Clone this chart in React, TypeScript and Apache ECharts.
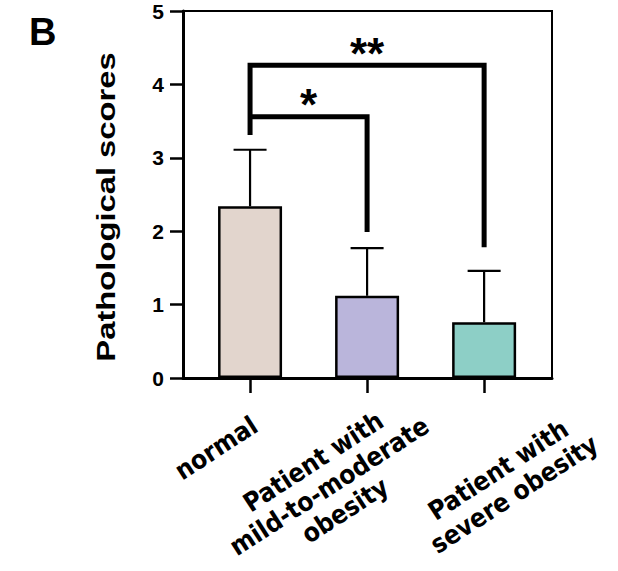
import React, { useEffect, useRef } from "react";
import * as echarts from "echarts";

const CATEGORIES = [
  "normal",
  "Patient with\nmild-to-moderate\nobesity",
  "Patient with\nsevere obesity",
];
const MEANS = [2.34, 1.12, 0.76];
const ERRORS = [0.77, 0.65, 0.7];
const BAR_COLORS = ["#E2D5CD", "#BAB5DB", "#8DCFC6"];
const Y_MIN = 0;
const Y_MAX = 5;
const Y_INTERVAL = 1;
// significance brackets: [from, to, top, left leg end, right leg end]
const BRACKETS = [
  [0, 2, 4.26, 3.31, 1.78],
  [0, 1, 3.56, 3.56, 1.99],
];
const BRACKET_LABELS = ["**", "*"];
const Y_TITLE = "Pathological scores";
const PANEL = "B";

// layout (pixels) for rotated category labels: offset of block centre from tick
const LABEL_OFFSETS = [
  [-34, 70],
  [-38, 108],
  [22, 104],
];

export default function App() {
  const ref = useRef<HTMLDivElement>(null);
  useEffect(() => {
    document.body.style.margin = "0";
    const chart = echarts.init(ref.current!, undefined, { renderer: "svg" });
    const font = "'Liberation Sans', Arial, sans-serif";
    const labelFont = "'DejaVu Sans Condensed', 'DejaVu Sans', Verdana, sans-serif";
    chart.setOption({
      animation: false,
      backgroundColor: "#fff",
      grid: {
        left: 183,
        right: 66,
        top: 11,
        bottom: 193,
        show: true,
        borderColor: "#000",
        borderWidth: 2,
        backgroundColor: "transparent",
      },
      xAxis: {
        type: "value",
        min: -0.573,
        max: 2.58,
        splitLine: { show: false },
        axisLine: { show: true, onZero: false, lineStyle: { color: "#000", width: 3 } },
        axisTick: {
          show: true,
          customValues: [0, 1, 2],
          length: 15,
          inside: false,
          lineStyle: { color: "#000", width: 2.5 },
        },
        axisLabel: { show: false },
      },
      yAxis: {
        type: "value",
        min: Y_MIN,
        max: Y_MAX,
        interval: Y_INTERVAL,
        splitLine: { show: false },
        axisLine: { show: true, onZero: false, lineStyle: { color: "#000", width: 3 } },
        axisTick: { show: true, length: 13, lineStyle: { color: "#000", width: 2.5 } },
        axisLabel: {
          color: "#000",
          fontSize: 21,
          fontWeight: "bold",
          fontFamily: font,
          margin: 19,
        },
      },
      graphic: [
        {
          type: "text",
          x: 106,
          y: 207,
          rotation: Math.PI / 2,
          scaleX: 1.31,
          style: {
            text: Y_TITLE,
            fontSize: 25,
            fontWeight: "bold",
            fontFamily: font,
            fill: "#000",
            align: "center",
            verticalAlign: "middle",
          },
        },
        {
          type: "text",
          left: 29,
          top: 13,
          style: {
            text: PANEL,
            fontSize: 38,
            fontWeight: "bold",
            fontFamily: font,
            fill: "#000",
          },
        },
      ],
      series: [
        {
          type: "bar",
          barWidth: 64,
          data: MEANS.map((m, i) => ({
            value: [i, m],
            itemStyle: { color: BAR_COLORS[i], borderColor: "#000", borderWidth: 2.5 },
          })),
          z: 2,
        },
        {
          type: "custom",
          z: 3,
          data: MEANS.map((m, i) => [i, m, m + ERRORS[i]]),
          renderItem: (params: any, api: any) => {
            const x = api.value(0);
            const p0 = api.coord([x, api.value(1)]);
            const p1 = api.coord([x, api.value(2)]);
            const half = 16.5;
            return {
              type: "group",
              children: [
                {
                  type: "line",
                  shape: { x1: p0[0], y1: p0[1], x2: p1[0], y2: p1[1] },
                  style: { stroke: "#000", lineWidth: 2.2 },
                },
                {
                  type: "line",
                  shape: { x1: p1[0] - half, y1: p1[1], x2: p1[0] + half, y2: p1[1] },
                  style: { stroke: "#000", lineWidth: 2.2 },
                },
              ],
            };
          },
        },
        {
          type: "custom",
          z: 4,
          data: BRACKETS,
          renderItem: (params: any, api: any) => {
            const a = api.value(0);
            const b = api.value(1);
            const top = api.value(2);
            const pL = api.coord([a, api.value(3)]);
            const pTL = api.coord([a, top]);
            const pTR = api.coord([b, top]);
            const pR = api.coord([b, api.value(4)]);
            const mid = api.coord([(a + b) / 2, top]);
            return {
              type: "group",
              children: [
                {
                  type: "polyline",
                  shape: { points: [pL, pTL, pTR, pR] },
                  style: { stroke: "#000", lineWidth: 5, fill: null, lineJoin: "miter" },
                },
                {
                  type: "text",
                  x: mid[0],
                  y: mid[1] - 12,
                  style: {
                    text: BRACKET_LABELS[params.dataIndex],
                    fontSize: 44,
                    fontWeight: "bold",
                    fontFamily: font,
                    fill: "#000",
                    align: "center",
                    verticalAlign: "middle",
                  },
                },
              ],
            };
          },
        },
        {
          type: "custom",
          z: 5,
          clip: false,
          data: CATEGORIES.map((c, i) => [i]),
          renderItem: (params: any, api: any) => {
            const i = params.dataIndex;
            const p = api.coord([api.value(0), 0]);
            const off = LABEL_OFFSETS[i];
            return {
              type: "text",
              x: p[0] + off[0],
              y: p[1] + off[1],
              rotation: (33 * Math.PI) / 180,
              style: {
                text: CATEGORIES[i],
                fontSize: 26,
                fontWeight: "bold",
                fontFamily: labelFont,
                fill: "#000",
                align: "center",
                verticalAlign: "middle",
                lineHeight: 29,
              },
            };
          },
        },
      ],
    });
    return () => chart.dispose();
  }, []);
  return <div ref={ref} style={{ width: 618, height: 571 }} />;
}
